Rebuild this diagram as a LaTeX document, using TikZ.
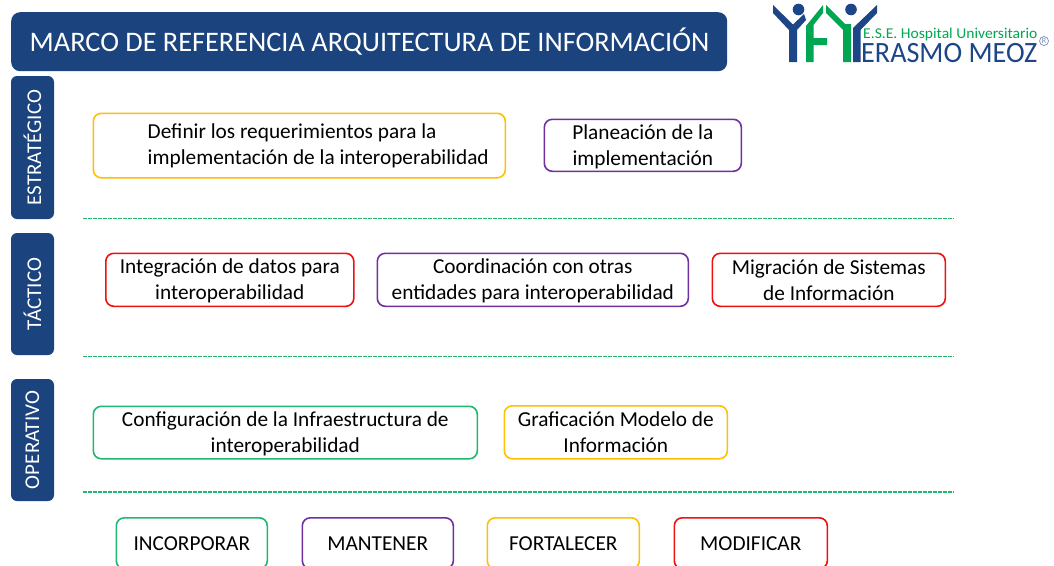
\documentclass[tikz,border=0pt]{standalone}
\usepackage{fontspec}
\setmainfont{Carlito}
\definecolor{navy}{HTML}{1B437E}
\definecolor{cgreen}{HTML}{1FB86E}
\definecolor{cyellow}{HTML}{FFC000}
\definecolor{cpurple}{HTML}{7030A0}
\definecolor{cred}{HTML}{F01010}
\definecolor{lgreen}{HTML}{00A651}
\definecolor{lblue}{HTML}{1D4688}
\tikzset{
  x=1pt,y=-1pt,
  box/.style={draw=#1,line width=1.6pt,rounded corners=8pt,fill=white,inner sep=0pt,align=center,text=black,font=\fontsize{21.3}{26}\selectfont},
  side/.style={fill=navy,rounded corners=6pt,inner sep=0pt,text=white,font=\fontsize{21}{24}\selectfont},
  sep/.style={draw=cgreen,line width=1.1pt,dash pattern=on 3.6pt off 1.4pt},
}
\newcommand{\bx}[7]{\node[box=#2,minimum width=#5pt,minimum height=#6pt,anchor=north west] (#1) at (#3,#4) {#7};}
\begin{document}
\begin{tikzpicture}
\useasboundingbox (0,0) rectangle (1054,565);
\clip (0,0) rectangle (1054,565);
\fill[white] (0,0) rectangle (1054,565);
% title
\node[fill=navy,rounded corners=9pt,minimum width=716pt,minimum height=59pt,anchor=north west,inner sep=0pt] (title) at (11,12) {};
\node[anchor=west,inner sep=0pt,text=white] (titletext) at (29.5,41.5) {\fontsize{28.3}{32}\selectfont MARCO DE REFERENCIA ARQUITECTURA DE INFORMACIÓN};
% side bars
\node[side,minimum width=143pt,minimum height=43pt,rotate=90] (s1) at (32.5,147.5) {ESTRATÉGICO};
\node[side,minimum width=122pt,minimum height=43pt,rotate=90] (s2) at (32.5,294) {TÁCTICO};
\node[side,minimum width=122pt,minimum height=43pt,rotate=90] (s3) at (32.5,440) {OPERATIVO};
% separators
\coordinate (a1) at (83,218.5); \coordinate (b1) at (953.5,218.5);
\coordinate (a2) at (83,356.5); \coordinate (b2) at (953.5,356.5);
\coordinate (a3) at (83,492); \coordinate (b3) at (953.5,492);
\draw[sep] (a1) -- (b1);
\draw[sep] (a2) -- (b2);
\draw[sep] (a3) -- (b3);
% boxes
\bx{d1}{cyellow}{92.5}{112.5}{412}{64.5}{}
\node[anchor=west,inner sep=0pt,align=left,text=black,font=\fontsize{21.3}{26}\selectfont] (d1t) at (147.5,146) {Definir los requerimientos para la\\implementación de la interoperabilidad};
\bx{d2}{cpurple}{543.5}{118.5}{197}{52}{\rule{0pt}{18pt}Planeación de la\\implementación}
\bx{t1}{cred}{105}{252.5}{248}{53}{\rule{0pt}{16pt}Integración de datos para\\interoperabilidad}
\bx{t2}{cpurple}{376.5}{252.5}{311}{53}{\rule{0pt}{16pt}Coordinación con otras\\entidades para interoperabilidad}
\bx{t3}{cred}{711.5}{252.5}{233}{53}{\rule{0pt}{16pt}Migración de Sistemas\\de Información}
\bx{o1}{cgreen}{92.5}{405.5}{384}{52.5}{\rule{0pt}{18pt}Configuración de la Infraestructura de\\interoperabilidad}
\bx{o2}{cyellow}{503.5}{405}{223}{53}{Graficación Modelo de\\Información}
\bx{k1}{cgreen}{115.5}{517}{151}{51}{INCORPORAR}
\bx{k2}{cpurple}{301.5}{517}{151}{51}{MANTENER}
\bx{k3}{cyellow}{486.5}{517}{152}{51}{FORTALECER}
\bx{k4}{cred}{673.5}{517}{153}{51}{MODIFICAR}
% logo
\fill[lblue] (773,5) -- (773,13) -- (789,30) -- (789,62) -- (797,62) -- (797,30) -- (806,20) -- (804,14) -- (793,24.5) -- cycle;
\fill[lblue] (798.5,9.5) circle (5.8);
\fill[lgreen] (806,62) -- (806,26) -- (823,5) -- (823,13) -- (813.5,25) -- (813.5,38) -- (827,38) -- (827,45) -- (813.5,45) -- (813.5,62) -- cycle;
\fill[lgreen] (826,5) -- (826,13) -- (843,30) -- (843,62) -- (851,62) -- (851,24) -- (845,24) -- cycle;
\fill[lblue] (853,62) -- (853,28) -- (877,5) -- (877,13) -- (860.5,30) -- (860.5,62) -- cycle;
\fill[lblue] (851,9.5) circle (5.8);
\node[anchor=base west,inner sep=0pt,text=lgreen,xscale=1.04] (lg1) at (863,38.5) {\fontsize{15}{15}\selectfont E.S.E. Hospital Universitario};
\node[anchor=base west,inner sep=0pt,text=lblue,xscale=.955] (lg2) at (861,62) {\fontsize{29.5}{30}\selectfont ERASMO MEOZ};
\node[circle,draw=lblue!60,line width=.7pt,inner sep=.8pt,text=lblue!60] (lg3) at (1044,41) {\fontsize{8}{8}\selectfont R};
\end{tikzpicture}
\end{document}
